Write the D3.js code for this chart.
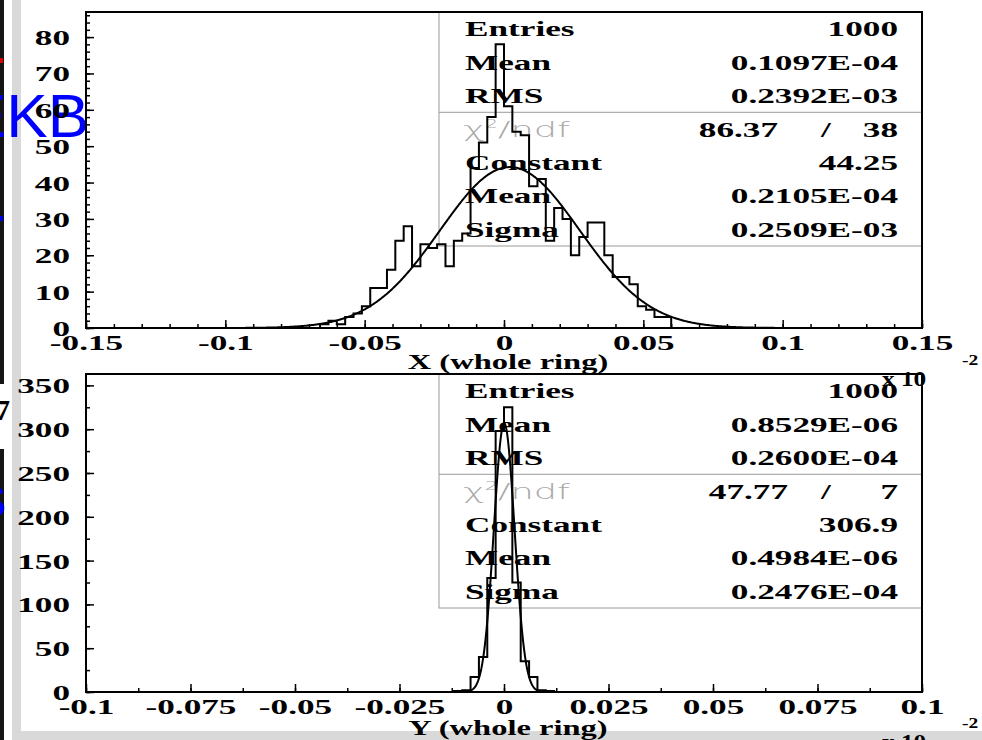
<!DOCTYPE html>
<html>
<head>
<meta charset="utf-8">
<script src="https://cdn.jsdelivr.net/npm/d3@7"></script>
<style>
  body { margin: 0; background: #fff; }
  svg { display: block; }
</style>
</head>
<body>
<script>
// ---- data ----
// X (whole ring): 100 bins over [-0.15, 0.15] (x 10^-2), first non-empty bin = 28
const xDomain = [-0.15, 0.15];
const xNBins = 100;
const xFirstBin = 28;
const xCounts = [1, 2, 1, 3, 4, 6, 11, 11, 16, 24, 28, 17, 23, 22, 23, 17, 24, 26,
                 44, 51, 58, 78, 61, 54, 53, 39, 41, 24, 33, 30, 20, 25, 29, 29,
                 20, 14, 14, 12, 6, 5, 3, 3];
const xTicks = [-0.15, -0.1, -0.05, 0, 0.05, 0.1, 0.15];
const xTickLabels = ["-0.15", "-0.1", "-0.05", "0", "0.05", "0.1", "0.15"];
const xYTicks = [0, 10, 20, 30, 40, 50, 60, 70, 80];
const xStatValues = ["1000", "0.1097E-04", "0.2392E-03"];
const xFitValues = ["86.37", "38", "44.25", "0.2105E-04", "0.2509E-03"];
const xFit = [44.25, 0.2105E-04 * 100, 0.2509E-03 * 100]; // constant, mean, sigma in axis units

// Y (whole ring): 100 bins over [-0.1, 0.1], first non-empty bin = 44
const yDomain = [-0.1, 0.1];
const yNBins = 100;
const yFirstBin = 44;
const yCounts = [1, 2, 17, 40, 130, 298, 325, 125, 35, 17, 2, 1];
const yTicks = [-0.1, -0.075, -0.05, -0.025, 0, 0.025, 0.05, 0.075, 0.1];
const yTickLabels = ["-0.1", "-0.075", "-0.05", "-0.025", "0", "0.025", "0.05", "0.075", "0.1"];
const yYTicks = [0, 50, 100, 150, 200, 250, 300, 350];
const yStatValues = ["1000", "0.8529E-06", "0.2600E-04"];
const yFitValues = ["47.77", "7", "306.9", "0.4984E-06", "0.2476E-04"];
const yFit = [306.9, 0.4984E-06 * 100, 0.2476E-04 * 100];

const statNames = ["Entries", "Mean", "RMS"];
const fitNames = ["Constant", "Mean", "Sigma"];

const W = 982, H = 740;
const SERIF = "'Liberation Serif','Times New Roman',serif";
const FS = 22, SX = 1.6;

const svg = d3.select("body").append("svg").attr("width", W).attr("height", H);

// window surroundings
svg.append("rect").attr("width", W).attr("height", H).attr("fill", "#fff");
svg.append("rect").attr("x", 12).attr("y", 0).attr("width", 9).attr("height", H).attr("fill", "#d9d9d9");
svg.append("rect").attr("x", 12).attr("y", 731).attr("width", W - 12).attr("height", H - 731).attr("fill", "#d9d9d9");
svg.append("rect").attr("x", 0).attr("y", 0).attr("width", 4).attr("height", 384).attr("fill", "#151515");
svg.append("rect").attr("x", 0).attr("y", 449).attr("width", 4).attr("height", H - 449).attr("fill", "#151515");
svg.append("rect").attr("x", 0).attr("y", 58).attr("width", 3).attr("height", 5).attr("fill", "#e00000");
svg.append("rect").attr("x", 0).attr("y", 216).attr("width", 3).attr("height", 5).attr("fill", "#0000ee");
svg.append("text").attr("x", 89).attr("y", 137).attr("text-anchor", "end")
  .attr("font-family", "'Liberation Sans',Arial,sans-serif").attr("font-size", 62)
  .attr("fill", "#0000ff").text("EKB");
svg.append("text").attr("x", 6).attr("y", 517).attr("text-anchor", "end")
  .attr("font-family", "'Liberation Sans',Arial,sans-serif").attr("font-size", 44)
  .attr("fill", "#0000ff").text("S");
svg.append("text").attr("x", 10).attr("y", 420).attr("text-anchor", "end")
  .attr("font-family", SERIF).attr("font-weight", "bold").attr("font-size", 30)
  .attr("fill", "#000").text("7");

function label(g, x, y, s, anchor, size, sx) {
  return g.append("text")
    .attr("transform", `translate(${x},${y}) scale(${sx || SX},1)`)
    .attr("text-anchor", anchor || "start")
    .attr("font-family", SERIF).attr("font-weight", "bold")
    .attr("font-size", size || FS).attr("fill", "#000")
    .text(s);
}

function chiLabel(g, x, y) {
  const t = g.append("text")
    .attr("transform", `translate(${x},${y}) scale(1.75,1)`)
    .attr("font-family", "'DejaVu Sans',sans-serif").attr("font-weight", 200)
    .attr("font-size", 21).attr("fill", "#a8a8a8");
  t.append("tspan").text("χ");
  t.append("tspan").attr("dy", -9).attr("font-size", 12).text("2");
  t.append("tspan").attr("dy", 9).text("/ndf");
}

function drawPad(p) {
  const left = 86, right = 922;
  const x = d3.scaleLinear().domain(p.domain).range([left, right]);
  const y = d3.scaleLinear().domain([0, p.yMax]).range([p.bottom, p.top]);
  const g = svg.append("g");

  const clipId = "clip" + p.top;
  g.append("clipPath").attr("id", clipId)
    .append("rect").attr("x", left).attr("y", p.top)
    .attr("width", right - left).attr("height", p.bottom - p.top);

  // stats box
  const bx = 439, bh = 234, rowH = bh / 7;
  const box = g.append("g");
  box.append("rect").attr("x", bx).attr("y", p.top).attr("width", right - bx).attr("height", bh)
    .attr("fill", "none").attr("stroke", "#9a9a9a").attr("stroke-width", 1);
  box.append("line").attr("x1", bx).attr("x2", right)
    .attr("y1", p.top + rowH * 3).attr("y2", p.top + rowH * 3)
    .attr("stroke", "#9a9a9a").attr("stroke-width", 1);
  const base = i => p.top + rowH * (i + 0.5) + 7.5;
  statNames.forEach((n, i) => {
    label(box, 465, base(i), n);
    label(box, 898, base(i), p.stats[i], "end");
  });
  chiLabel(box, 463, base(3));
  label(box, p.chiPos[0], base(3), p.fitVals[0], "end");
  label(box, 826, base(3), "/", "middle");
  label(box, 898, base(3), p.fitVals[1], "end");
  fitNames.forEach((n, i) => {
    label(box, 465, base(i + 4), n);
    label(box, 898, base(i + 4), p.fitVals[i + 2], "end");
  });

  // histogram outline
  const bw = (p.domain[1] - p.domain[0]) / p.nBins;
  const pts = [];
  p.counts.forEach((c, i) => {
    const e0 = p.domain[0] + (p.firstBin + i) * bw;
    if (i === 0) pts.push([e0, 0]);
    pts.push([e0, c], [e0 + bw, c]);
  });
  pts.push([p.domain[0] + (p.firstBin + p.counts.length) * bw, 0]);
  const line = d3.line().x(d => x(d[0])).y(d => y(d[1]));
  g.append("path").datum(pts).attr("d", line)
    .attr("clip-path", `url(#${clipId})`)
    .attr("fill", "none").attr("stroke", "#000").attr("stroke-width", 2);

  // gaussian fit
  const [c0, mu, sg] = p.fit;
  const span = p.domain[1] - p.domain[0];
  const fitPts = d3.range(0, 1001).map(i => {
    const xv = p.domain[0] + span * i / 1000;
    return [xv, c0 * Math.exp(-0.5 * ((xv - mu) / sg) ** 2)];
  });
  g.append("path").datum(fitPts).attr("d", line)
    .attr("clip-path", `url(#${clipId})`)
    .attr("fill", "none").attr("stroke", "#000").attr("stroke-width", 2);

  // axes (ticks inside the frame)
  const styleAxis = a => {
    a.select(".domain").remove();
    a.selectAll(".tick line").attr("stroke", "#000").attr("stroke-width", 1.5);
  };
  const ax = g.append("g").attr("transform", `translate(0,${p.bottom})`);
  ax.append("g").call(d3.axisBottom(x).tickValues(p.xMinor).tickSizeInner(-4).tickSizeOuter(0).tickFormat(""))
    .call(styleAxis);
  const axMaj = ax.append("g")
    .call(d3.axisBottom(x).tickValues(p.xTicks).tickSizeInner(-8).tickSizeOuter(0)
      .tickFormat((d, i) => p.xLabels[i]))
    .call(styleAxis);
  axMaj.selectAll(".tick text")
    .attr("y", null).attr("dy", null)
    .attr("transform", `translate(0,22) scale(${SX},1)`)
    .attr("font-family", SERIF).attr("font-weight", "bold").attr("font-size", FS).attr("fill", "#000");

  const ay = g.append("g").attr("transform", `translate(${left},0)`);
  ay.append("g").call(d3.axisLeft(y).tickValues(p.yMinor).tickSizeInner(-4).tickSizeOuter(0).tickFormat(""))
    .call(styleAxis);
  const ayMaj = ay.append("g")
    .call(d3.axisLeft(y).tickValues(p.yTicks).tickSizeInner(-8).tickSizeOuter(0).tickFormat(d3.format("d")))
    .call(styleAxis);
  ayMaj.selectAll(".tick text")
    .attr("x", null).attr("dy", null)
    .attr("transform", `translate(-16,7.5) scale(${SX},1)`)
    .attr("font-family", SERIF).attr("font-weight", "bold").attr("font-size", FS).attr("fill", "#000");

  // frame
  g.append("rect").attr("x", left).attr("y", p.top)
    .attr("width", right - left).attr("height", p.bottom - p.top)
    .attr("fill", "none").attr("stroke", "#000").attr("stroke-width", 2);

  // axis title and exponent
  label(g, 508, p.titleY, p.title, "middle", 21, 1.55);
  label(g, 882, p.expY, "x 10", "start", 22, 1.15);
  label(g, 962, p.expY - 21, "-2", "start", 15, 1.3);
}

drawPad({
  top: 12, bottom: 328, domain: xDomain, yMax: 86.9,
  nBins: xNBins, firstBin: xFirstBin, counts: xCounts, fit: xFit,
  xTicks: xTicks, xLabels: xTickLabels, xMinor: d3.range(-15, 16).map(i => i / 100),
  yTicks: xYTicks, yMinor: d3.range(0, 87, 2),
  stats: xStatValues, fitVals: xFitValues, chiPos: [778],
  title: "X (whole ring)", titleY: 369, expY: 386
});

drawPad({
  top: 374, bottom: 692, domain: yDomain, yMax: 363,
  nBins: yNBins, firstBin: yFirstBin, counts: yCounts, fit: yFit,
  xTicks: yTicks, xLabels: yTickLabels, xMinor: d3.range(-8, 9).map(i => i * 0.0125),
  yTicks: yYTicks, yMinor: d3.range(0, 363, 25),
  stats: yStatValues, fitVals: yFitValues, chiPos: [788],
  title: "Y (whole ring)", titleY: 735, expY: 749
});
</script>
</body>
</html>
